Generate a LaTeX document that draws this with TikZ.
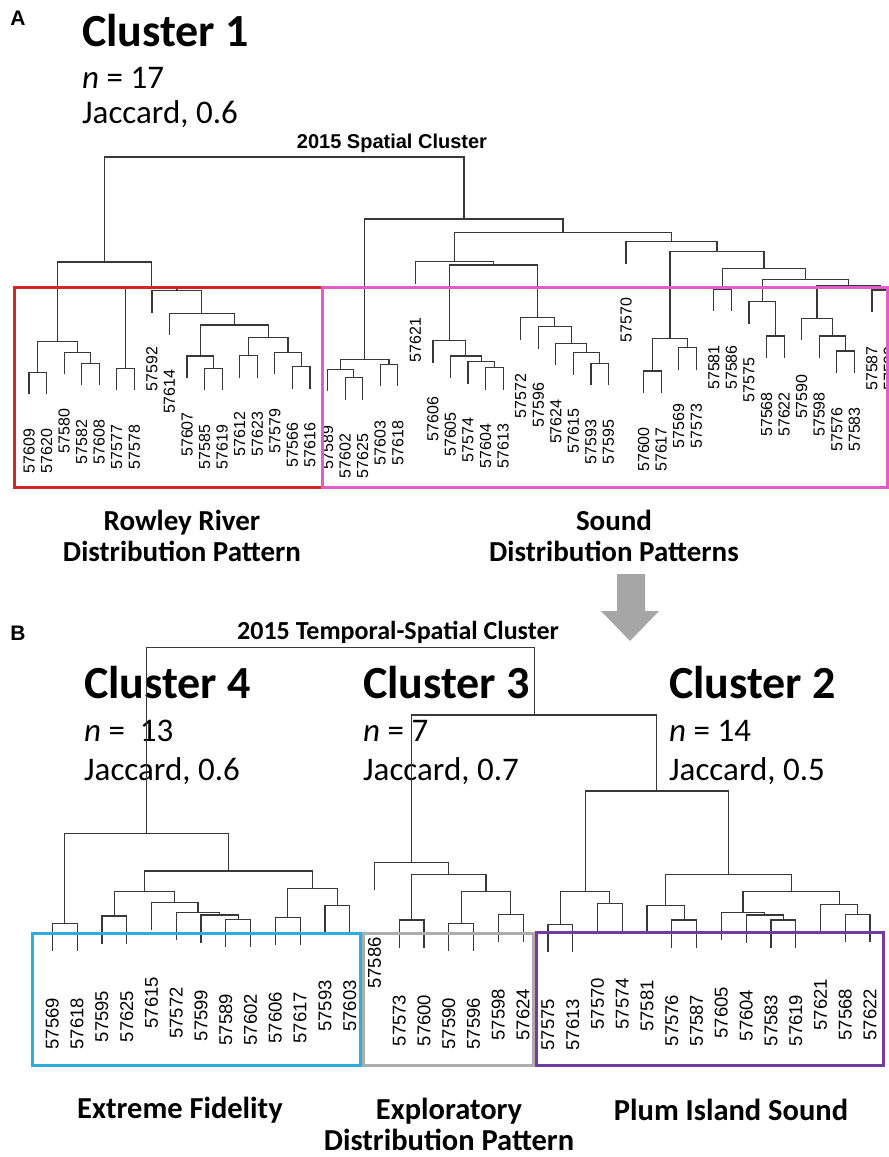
\documentclass[tikz,border=0pt]{standalone}
\usepackage{fontspec}
\setmainfont{Carlito}
\newfontfamily\arialfont{Liberation Sans}

\definecolor{rahmenrot}{RGB}{214,38,36}
\definecolor{rahmenpink}{RGB}{228,92,204}
\definecolor{rahmencyan}{RGB}{46,172,222}
\definecolor{rahmengrau}{RGB}{172,172,172}
\definecolor{rahmenlila}{RGB}{112,62,160}
\definecolor{pfeilgrau}{RGB}{166,166,166}

% Ast eines Dendrogramms: links (x,y-Ende), rechts (x,y-Ende), Hoehe
\newcommand\merge[5]{\draw[dendro] (#1,#2) |- (#3,#5) -- (#3,#4);}

\begin{document}
\begin{tikzpicture}[x=1pt, y=-1pt]

    % --- Grundeinstellungen für Styles ---
    \tikzset{
        dendro/.style={
            line width=1.2pt,
            draw=black!78
        },
        rahmen/.style={
            line width=3pt
        },
        titel/.style={
            font=\fontsize{46}{46}\selectfont\bfseries,
            inner sep=0pt,
            anchor=base west
        },
        info/.style={
            font=\fontsize{33}{33}\selectfont,
            inner sep=0pt,
            anchor=base west
        },
        muster/.style={
            font=\fontsize{29}{31}\selectfont\bfseries,
            align=center,
            inner sep=0pt
        },
        panel/.style={
            font=\arialfont\fontsize{21}{21}\selectfont\bfseries,
            inner sep=0pt
        },
        oblab/.style={
            font=\arialfont\fontsize{16}{16}\selectfont,
            rotate=90,
            anchor=east,
            inner sep=0pt
        },
        unlab/.style={
            font=\arialfont\fontsize{18.5}{18.5}\selectfont,
            rotate=90,
            anchor=east,
            inner sep=0pt
        }
    }

    \path[use as bounding box, fill=white] (0,0) rectangle (889,1157);
    \clip (0,0) rectangle (889,1157);

    % --- 1. Teil A: Texte ---
    \node[panel] (pa) at (18,18) {A};
    \node[titel] (c1) at (82,46) {Cluster 1};
    \node[info] (n1) at (82,88) {\textit{n} = 17};
    \node[info] (j1) at (82,123) {Jaccard, 0.6};
    \node[panel, font=\arialfont\fontsize{20}{20}\selectfont\bfseries, anchor=base] (ta) at (392,148) {2015 Spatial Cluster};

    % --- 2. Teil A: Dendrogramm ---
    % Rowley River
    \merge{29.0}{394.3}{46.6}{394.3}{372.3}
    \merge{81.7}{385.3}{99.2}{385.3}{363.3}
    \merge{64.1}{374.3}{90.45}{363.3}{352.3}
    \merge{37.8}{372.3}{77.3}{352.3}{341.7}
    \merge{116.8}{390.3}{134.4}{390.3}{368.3}
    \merge{204.6}{390.3}{222.2}{390.3}{368.3}
    \merge{187.0}{378}{213.4}{368.3}{356}
    \merge{239.7}{377.7}{257.3}{377.7}{355.7}
    \merge{292.4}{388.7}{310.0}{388.7}{366.7}
    \merge{274.8}{374.3}{301.2}{366.7}{352.3}
    \merge{248.5}{355.7}{288.0}{352.3}{337.7}
    \merge{200.2}{356}{268.25}{337.7}{325}
    \merge{169.5}{335.3}{234.2}{325}{313.3}
    \merge{151.9}{312.7}{201.85}{313.3}{290.7}
    \merge{125.6}{368.3}{176.9}{290.7}{287}
    \merge{57.55}{341.7}{151.25}{287}{262}
    % Sound
    \merge{345.1}{399.7}{362.6}{399.7}{377.7}
    \merge{327.5}{391.3}{353.85}{377.7}{369.3}
    \merge{380.2}{386.3}{397.8}{386.3}{364.3}
    \merge{340.7}{369.3}{389.0}{364.3}{359.3}
    \merge{485.6}{389.7}{503.1}{389.7}{367.7}
    \merge{468.0}{383.7}{494.35}{367.7}{361.7}
    \merge{450.4}{378}{481.2}{361.7}{356}
    \merge{432.9}{362.7}{465.8}{356}{340.7}
    \merge{590.9}{385.3}{608.5}{385.3}{363.3}
    \merge{573.4}{374.7}{599.7}{363.3}{352.7}
    \merge{555.8}{365.3}{586.55}{352.7}{343.3}
    \merge{538.2}{348.7}{571.2}{343.3}{326.7}
    \merge{520.7}{339.7}{554.7}{326.7}{317.7}
    \merge{449.35}{340.7}{537.7}{317.7}{265}
    \merge{415.3}{283.7}{493.5}{265}{261.7}
    \merge{643.6}{393}{661.2}{393}{371}
    \merge{678.7}{369.7}{696.3}{369.7}{347.7}
    \merge{652.4}{371}{687.5}{347.7}{338.3}
    \merge{713.8}{311}{731.4}{311}{289}
    \merge{766.5}{358}{784.1}{358}{336}
    \merge{749.0}{323.7}{775.3}{336}{301.7}
    \merge{836.8}{373}{854.3}{373}{351}
    \merge{819.2}{358}{845.55}{351}{336}
    \merge{801.6}{340.3}{832.4}{336}{318.3}
    \merge{871.9}{312}{889.4}{312}{290}
    \merge{817.0}{318.3}{880.65}{290}{286}
    \merge{762.15}{301.7}{848.8}{286}{279.3}
    \merge{722.6}{289}{805.5}{279.3}{268.3}
    \merge{669.95}{338.3}{764.05}{268.3}{251.7}
    \merge{626.0}{263.7}{717.0}{251.7}{241.7}
    \merge{454.4}{261.7}{671.5}{241.7}{232.5}
    \merge{364.85}{359.3}{562.95}{232.5}{219}
    % Wurzel
    \merge{104.4}{262}{463.9}{219}{157}

    % Blattnamen oben
    \foreach \i/\lab/\e in {0/57609/394.3, 1/57620/394.3, 2/57580/374.3, 3/57582/385.3,
        4/57608/385.3, 5/57577/390.3, 6/57578/390.3, 7/57592/312.7, 8/57614/335.3,
        9/57607/378, 10/57585/390.3, 11/57619/390.3, 12/57612/377.7, 13/57623/377.7,
        14/57579/374.3, 15/57566/388.7, 16/57616/388.7, 17/57589/391.3, 18/57602/399.7,
        19/57625/399.7, 20/57603/386.3, 21/57618/386.3, 22/57621/283.7, 23/57606/362.7,
        24/57605/378, 25/57574/383.7, 26/57604/389.7, 27/57613/389.7, 28/57572/339.7,
        29/57596/348.7, 30/57624/365.3, 31/57615/374.7, 32/57593/385.3, 33/57595/385.3,
        34/57570/263.7, 35/57600/393, 36/57617/393, 37/57569/369.7, 38/57573/369.7,
        39/57581/311, 40/57586/311, 41/57575/323.7, 42/57568/358, 43/57622/358,
        44/57590/340.3, 45/57598/358, 46/57576/373, 47/57583/373, 48/57587/312,
        49/57599/312}
        \node[oblab] (o\i) at ({29+17.56*\i}, \e+34) {\lab};

    % Rahmen oben
    \draw[rahmen, draw=rahmenrot] (14,287) rectangle (322,487);
    \draw[rahmen, draw=rahmenpink] (322,287) rectangle (887,487);

    \node[muster] (rr) at (182,536) {Rowley River\\Distribution Pattern};
    \node[muster] (sd) at (614,536) {Sound\\Distribution Patterns};

    % Pfeil nach unten
    \fill[pfeilgrau] (617,574) -- (645,574) -- (645,611) -- (659,611)
        -- (630,641) -- (601,611) -- (617,611) -- cycle;

    % --- 3. Teil B: Texte ---
    \node[panel] (pb) at (18,633) {B};
    \node[muster, font=\fontsize{26}{26}\selectfont\bfseries, anchor=base] (tb) at (398,639) {2015 Temporal-Spatial Cluster};

    \node[titel] (c4) at (84,698) {Cluster 4};
    \node[info] (n4) at (84,741) {\textit{n} =\ \ 13};
    \node[info] (j4) at (84,780) {Jaccard, 0.6};
    \node[titel] (c3) at (363,698) {Cluster 3};
    \node[info] (n3) at (363,741) {\textit{n} = 7};
    \node[info] (j3) at (363,780) {Jaccard, 0.7};
    \node[titel] (c2) at (669,698) {Cluster 2};
    \node[info] (n2) at (669,741) {\textit{n} = 14};
    \node[info] (j2) at (669,780) {Jaccard, 0.5};

    % --- 4. Teil B: Dendrogramm ---
    % Cluster 4
    \merge{52.3}{950.8}{77.1}{950.8}{923.3}
    \merge{101.9}{943.5}{126.6}{943.5}{916}
    \merge{225.8}{946.8}{250.5}{946.8}{919.3}
    \merge{201.0}{942.5}{238.15}{919.3}{915}
    \merge{176.2}{940.2}{219.6}{915}{912.7}
    \merge{151.4}{929.8}{197.9}{912.7}{902.3}
    \merge{114.25}{916}{174.65}{902.3}{891.7}
    \merge{275.3}{944.8}{300.1}{944.8}{917.3}
    \merge{324.9}{933.2}{349.7}{933.2}{905.7}
    \merge{287.7}{917.3}{337.3}{905.7}{888.3}
    \merge{144.45}{891.7}{312.5}{888.3}{871}
    \merge{64.7}{923.3}{228.5}{871}{833.3}
    % Cluster 3
    \merge{399.2}{947.5}{424.0}{947.5}{920}
    \merge{448.8}{950.8}{473.6}{950.8}{923.3}
    \merge{498.3}{941.8}{523.1}{941.8}{914.3}
    \merge{461.2}{923.3}{510.7}{914.3}{891.7}
    \merge{411.6}{920}{485.95}{891.7}{874.3}
    \merge{374.4}{890.2}{448.8}{874.3}{862.7}
    % Cluster 2
    \merge{547.9}{951.8}{572.7}{951.8}{924.3}
    \merge{597.5}{930.8}{622.2}{930.8}{903.3}
    \merge{560.3}{924.3}{609.85}{903.3}{891.7}
    \merge{671.8}{947.5}{696.6}{947.5}{920}
    \merge{647.0}{933.2}{684.2}{920}{905.7}
    \merge{770.9}{947.5}{795.7}{947.5}{920}
    \merge{746.1}{942.5}{783.3}{920}{915}
    \merge{721.4}{939.8}{764.7}{915}{912.3}
    \merge{845.3}{941.8}{870.0}{941.8}{914.3}
    \merge{820.5}{931.8}{857.65}{914.3}{904.3}
    \merge{743.05}{912.3}{839.1}{904.3}{891.7}
    \merge{665.6}{905.7}{791.1}{891.7}{874.3}
    \merge{585.1}{891.7}{728.35}{874.3}{791}
    % obere Aeste
    \merge{411.6}{862.7}{656.7}{791}{715}
    \merge{146.6}{833.3}{534.15}{715}{647.3}

    % Blattnamen unten
    \foreach \i/\lab/\e in {0/57569/950.8, 1/57618/950.8, 2/57595/943.5, 3/57625/943.5,
        4/57615/929.8, 5/57572/940.2, 6/57599/942.5, 7/57589/946.8, 8/57602/946.8,
        9/57606/944.8, 10/57617/944.8, 11/57593/933.2, 12/57603/933.2, 13/57586/890.2,
        14/57573/947.5, 15/57600/947.5, 16/57590/950.8, 17/57596/950.8, 18/57598/941.8,
        19/57624/941.8, 20/57575/951.8, 21/57613/951.8, 22/57570/930.8, 23/57574/930.8,
        24/57581/933.2, 25/57576/947.5, 26/57587/947.5, 27/57605/939.8, 28/57604/942.5,
        29/57583/947.5, 30/57619/947.5, 31/57621/931.8, 32/57568/941.8, 33/57622/941.8}
        \node[unlab] (u\i) at ({52.3+24.78*\i}, \e+47) {\lab};

    % Rahmen unten
    \draw[rahmen, draw=rahmencyan] (32,933) rectangle (360,1065);
    \draw[rahmen, draw=rahmengrau] (363,933) rectangle (533,1065);
    \draw[rahmen, draw=rahmenlila] (536,932) rectangle (883,1065);

    \node[muster, font=\fontsize{30.5}{31}\selectfont\bfseries] (ef) at (180,1110) {Extreme Fidelity};
    \node[muster, font=\fontsize{30.5}{31}\selectfont\bfseries] (ex) at (449,1124) {Exploratory\\Distribution Pattern};
    \node[muster, font=\fontsize{30.5}{31}\selectfont\bfseries] (pi) at (731,1110) {Plum Island Sound};

\end{tikzpicture}
\end{document}
